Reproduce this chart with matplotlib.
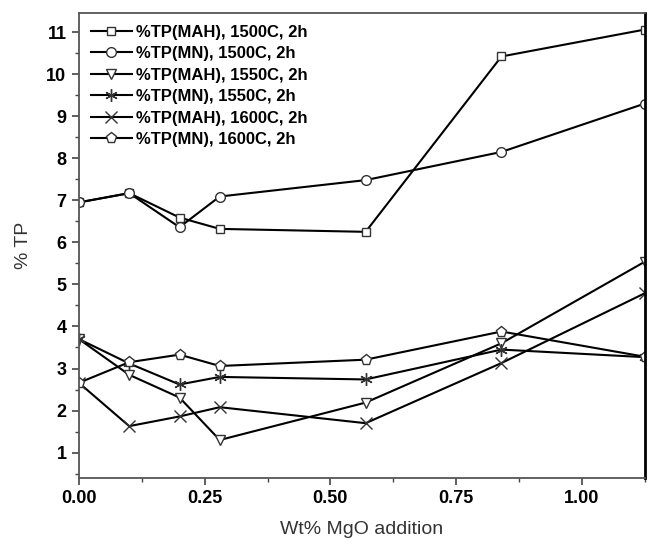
import matplotlib.pyplot as plt
from matplotlib.ticker import MultipleLocator

plt.rcParams['font.family'] = ['Liberation Sans', 'DejaVu Sans']

# wt% MgO
x = [0.0, 0.1, 0.2, 0.28, 0.57, 0.84, 1.125]

tp_mah_1500 = [6.95, 7.17, 6.59, 6.32, 6.25, 10.42, 11.06]
tp_mn_1500 = [6.95, 7.17, 6.36, 7.09, 7.48, 8.15, 9.3]
tp_mah_1550 = [3.7, 2.85, 2.31, 1.3, 2.19, 3.6, 5.54]
tp_mn_1550 = [3.7, 3.12, 2.62, 2.8, 2.74, 3.45, 3.27]
tp_mah_1600 = [2.66, 1.63, 1.86, 2.08, 1.7, 3.13, 4.79]
tp_mn_1600 = [2.66, 3.15, 3.33, 3.06, 3.21, 3.88, 3.28]

labels = ["%TP(MAH), 1500C, 2h", "%TP(MN), 1500C, 2h", "%TP(MAH), 1550C, 2h",
          "%TP(MN), 1550C, 2h", "%TP(MAH), 1600C, 2h", "%TP(MN), 1600C, 2h"]
series = [tp_mah_1500, tp_mn_1500, tp_mah_1550, tp_mn_1550, tp_mah_1600, tp_mn_1600]
markers = ["s", "o", "v", (6, 2, 0), "x", "p"]
msizes = [6, 7, 7, 9, 8, 8]

fig = plt.figure(figsize=(6.52, 5.48), dpi=100)
ax = fig.add_axes([0.121, 0.128, 0.868, 0.848])

for y, lab, m, ms in zip(series, labels, markers, msizes):
    ax.plot(x, y, color="black", lw=1.5, marker=m, ms=ms, mfc="white",
            mec="#333333", mew=1.0, label=lab)

ax.set_xlim(0, 1.125)
ax.set_ylim(0.4, 11.45)
ax.xaxis.set_major_locator(MultipleLocator(0.25))
ax.xaxis.set_minor_locator(MultipleLocator(0.125))
ax.yaxis.set_major_locator(MultipleLocator(1))
ax.yaxis.set_minor_locator(MultipleLocator(0.5))
ax.tick_params(which="both", direction="out", top=False, right=False, color="#444444")
ax.tick_params(which="major", length=5, width=1.2, labelsize=13, pad=4)
ax.tick_params(which="minor", length=3, width=1)
ax.xaxis.set_major_formatter(plt.FormatStrFormatter("%.2f"))
ax.yaxis.set_major_formatter(plt.FormatStrFormatter("%d"))
for t in ax.get_xticklabels() + ax.get_yticklabels():
    t.set_fontweight("bold")

for s in ["left", "bottom", "top"]:
    ax.spines[s].set_color("#555555")
    ax.spines[s].set_linewidth(1.3)
ax.spines["right"].set_color("black")
ax.spines["right"].set_linewidth(2)

ax.set_xlabel("Wt% MgO addition", fontsize=14, color="#333333", labelpad=10)
ax.set_ylabel("% TP", fontsize=14, color="#333333", labelpad=10)

leg = ax.legend(loc="upper left", frameon=False, prop={"weight": "bold", "size": 12},
                handlelength=2.5, handletextpad=0.2, labelspacing=0.39,
                borderaxespad=0.4, borderpad=0.3)

fig.savefig("out.png", dpi=100)
